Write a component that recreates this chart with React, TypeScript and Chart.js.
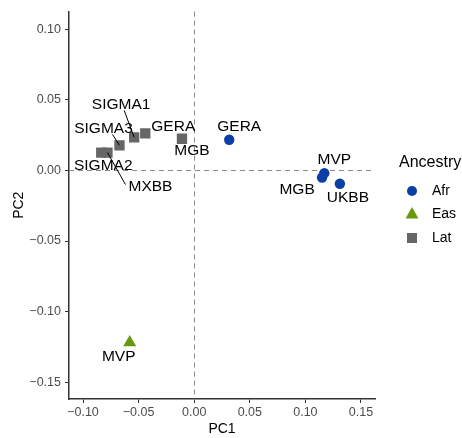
import React, { useEffect, useRef } from 'react';
import { Chart, registerables } from 'chart.js';

Chart.register(...registerables);

// ---- data ----
const afrLabels = ['GERA', 'MVP', 'MGB', 'UKBB'];
const afrX = [0.0315, 0.117, 0.115, 0.131];
const afrY = [0.0218, -0.0019, -0.005, -0.0094];

const easLabels = ['MVP'];
const easX = [-0.058];
const easY = [-0.122];

const latLabels = ['SIGMA2', 'MXBB', 'SIGMA3', 'SIGMA1', 'GERA', 'MGB'];
const latX = [-0.0836, -0.078, -0.0672, -0.054, -0.044, -0.011];
const latY = [0.0127, 0.0127, 0.0178, 0.0235, 0.0263, 0.0225];

const groupNames = ['Afr', 'Eas', 'Lat'];
const xTicks = [-0.1, -0.05, 0.0, 0.05, 0.1, 0.15];
const yTicks = [-0.15, -0.1, -0.05, 0.0, 0.05, 0.1];
const xLimits = [-0.1126, 0.1626];
const yLimits = [-0.162, 0.1127];

// ---- label placement (pixel offsets, style only) ----
const afrLabelOffsets = [[10, -13], [10, -13], [-25, 12], [8, 14]];
const easLabelOffsets = [[-11, 14]];
const latLabelOffsets = [[2, 13], [43, 34], [-16, -17], [-13, -33], [28, -7], [10, 12]];
const latLeaders: (number[] | null)[] = [null, [18, 32], [-7, -11], [-10, -27], null, null];

const FONT = '"Liberation Sans", Arial, Helvetica, sans-serif';
const colors = ['#0b3fa6', '#669a0c', '#666666'];

const fmt = (v: number) => {
  const s = Math.abs(v).toFixed(2);
  return v < -1e-9 ? '\u2212' + s : s;
};

const toPts = (xs: number[], ys: number[]) => xs.map((x, i) => ({ x, y: ys[i] }));

export default function App() {
  const ref = useRef<HTMLCanvasElement | null>(null);

  useEffect(() => {
    document.body.style.margin = '0';
    const canvas = ref.current;
    if (!canvas) return;

    const labelSets = [afrLabels, easLabels, latLabels];
    const offsetSets = [afrLabelOffsets, easLabelOffsets, latLabelOffsets];
    const leaderSets: (number[] | null)[][] = [afrLabels.map(() => null), easLabels.map(() => null), latLeaders];

    const zeroLines = {
      id: 'zeroLines',
      beforeDatasetsDraw(chart: any) {
        const { ctx, chartArea, scales } = chart;
        const x0 = Math.round(scales.x.getPixelForValue(0)) + 0.5;
        const y0 = Math.round(scales.y.getPixelForValue(0)) + 0.5;
        ctx.save();
        ctx.strokeStyle = '#8a8a8a';
        ctx.lineWidth = 1;
        ctx.setLineDash([5, 4]);
        ctx.beginPath();
        ctx.moveTo(x0, chartArea.top);
        ctx.lineTo(x0, chartArea.bottom);
        ctx.moveTo(chartArea.left, y0);
        ctx.lineTo(chartArea.right, y0);
        ctx.stroke();
        ctx.restore();
      },
    };

    const pointLabels = {
      id: 'pointLabels',
      afterDatasetsDraw(chart: any) {
        const { ctx } = chart;
        ctx.save();
        ctx.font = `15.5px ${FONT}`;
        ctx.fillStyle = '#000';
        ctx.textAlign = 'center';
        ctx.textBaseline = 'middle';
        labelSets.forEach((labels, di) => {
          const meta = chart.getDatasetMeta(di);
          labels.forEach((lab, j) => {
            const el = meta.data[j];
            const [dx, dy] = offsetSets[di][j];
            const leader = leaderSets[di][j];
            if (leader) {
              ctx.strokeStyle = '#000';
              ctx.lineWidth = 1;
              ctx.beginPath();
              ctx.moveTo(el.x, el.y);
              ctx.lineTo(el.x + leader[0], el.y + leader[1]);
              ctx.stroke();
            }
            ctx.fillText(lab, el.x + dx, el.y + dy);
          });
        });
        ctx.restore();
      },
    };

    const legendPlugin = {
      id: 'customLegend',
      afterDraw(chart: any) {
        const { ctx } = chart;
        ctx.save();
        ctx.fillStyle = '#000';
        ctx.textBaseline = 'middle';
        ctx.textAlign = 'left';
        ctx.font = `16px ${FONT}`;
        ctx.fillText('Ancestry', 399, 163);
        const sx = 412;
        const ys = [191, 214, 238];
        ctx.font = `14px ${FONT}`;
        groupNames.forEach((name, i) => {
          const y = ys[i];
          ctx.fillStyle = colors[i];
          ctx.beginPath();
          if (i === 0) {
            ctx.arc(sx, y, 5, 0, Math.PI * 2);
          } else if (i === 1) {
            ctx.moveTo(sx, y - 7);
            ctx.lineTo(sx + 6.5, y + 4.5);
            ctx.lineTo(sx - 6.5, y + 4.5);
            ctx.closePath();
          } else {
            ctx.rect(sx - 5, y - 5, 10, 10);
          }
          ctx.fill();
          ctx.fillStyle = '#000';
          ctx.fillText(name, 432, y);
        });
        ctx.restore();
      },
    };

    const chart = new Chart(canvas, {
      type: 'scatter',
      data: {
        datasets: [
          { label: groupNames[0], data: toPts(afrX, afrY), backgroundColor: colors[0], borderColor: colors[0], pointStyle: 'circle', pointRadius: 5.2, borderWidth: 0 },
          { label: groupNames[1], data: toPts(easX, easY), backgroundColor: colors[1], borderColor: colors[1], pointStyle: 'triangle', pointRadius: 7.5, borderWidth: 0 },
          { label: groupNames[2], data: toPts(latX, latY), backgroundColor: colors[2], borderColor: colors[2], pointStyle: 'rect', pointRadius: 7.3, borderWidth: 0 },
        ] as any,
      },
      options: {
        animation: false,
        responsive: false,
        events: [],
        layout: { padding: { left: 0, right: 87, top: 8, bottom: 0 } },
        plugins: { legend: { display: false }, tooltip: { enabled: false } },
        scales: {
          x: {
            type: 'linear',
            min: xLimits[0],
            max: xLimits[1],
            afterBuildTicks: (s: any) => { s.ticks = xTicks.map((v) => ({ value: v })); },
            afterFit: (s: any) => { s.height = 39; },
            ticks: {
              callback: (v: any) => fmt(Number(v)),
              color: '#4d4d4d',
              font: { family: FONT, size: 12.5 },
              padding: 2,
              maxRotation: 0,
              autoSkip: false,
            },
            grid: { drawOnChartArea: false, drawTicks: true, tickLength: 4, tickColor: '#333', tickWidth: 1 },
            border: { display: true, color: '#333', width: 1.5 },
            title: { display: true, text: 'PC1', color: '#000', font: { family: FONT, size: 14 }, padding: { top: 0, bottom: 0 } },
          },
          y: {
            type: 'linear',
            min: yLimits[0],
            max: yLimits[1],
            afterBuildTicks: (s: any) => { s.ticks = yTicks.map((v) => ({ value: v })); },
            afterFit: (s: any) => { s.width = 69; },
            ticks: {
              callback: (v: any) => fmt(Number(v)),
              color: '#4d4d4d',
              font: { family: FONT, size: 12.5 },
              padding: 4,
              autoSkip: false,
            },
            grid: { drawOnChartArea: false, drawTicks: true, tickLength: 4, tickColor: '#333', tickWidth: 1 },
            border: { display: true, color: '#333', width: 1.5 },
            title: { display: true, text: 'PC2', color: '#000', font: { family: FONT, size: 14 }, padding: { top: 10.5, bottom: 0 } },
          },
        },
      } as any,
      plugins: [zeroLines, pointLabels, legendPlugin],
    });

    return () => chart.destroy();
  }, []);

  return (
    <div style={{ width: 462, height: 438 }}>
      <canvas ref={ref} width={462} height={438} />
    </div>
  );
}
